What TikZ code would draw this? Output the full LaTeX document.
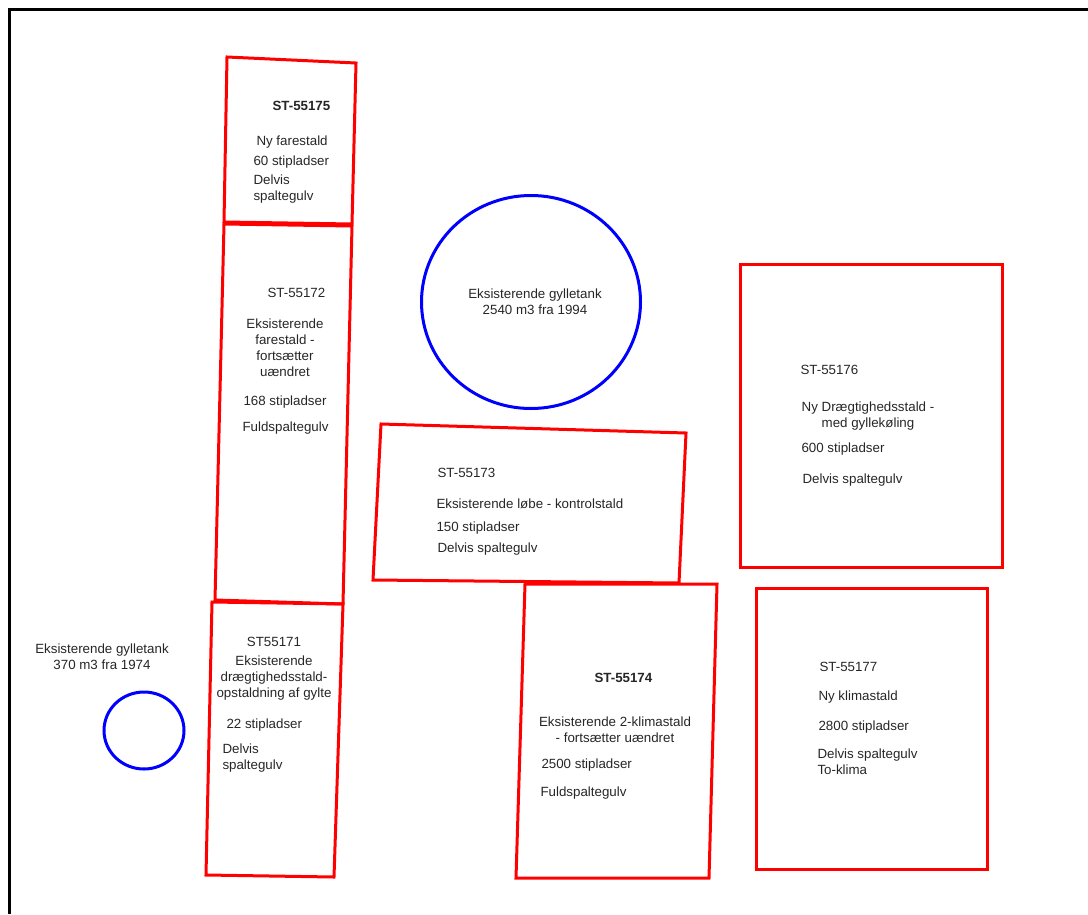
\documentclass[tikz,border=0pt]{standalone}
\usepackage{fontspec}
\setmainfont{Liberation Sans}
\tikzset{every picture/.style={line width=0.75pt}}
\tikzset{
  stald/.style={draw=red,line width=2.25pt},
  tank/.style={draw=blue,line width=2.25pt},
  txt/.style={inner sep=0.75pt,font=\fontsize{10}{12}\selectfont,text=black!85}
}

\begin{document}
\begin{tikzpicture}[x=0.75pt,y=0.75pt,yscale=-1,xscale=1]
	\useasboundingbox (0,0) rectangle (1088,914);

	%Frame
	\draw [line width=2.25pt] (9,914) -- (9,9) -- (1088,9) ;

	%Shape: ST-55175
	\draw [stald] (227,57) -- (356,63) -- (352,224) -- (224,222) -- cycle ;
	%Shape: ST-55172
	\draw [stald] (224,224) -- (352,226) -- (343,604) -- (215,600) -- cycle ;
	%Shape: ST-55171
	\draw [stald] (212,602) -- (343,604) -- (334,877) -- (206,875) -- cycle ;
	%Shape: ST-55173
	\draw [stald] (381,424) -- (686,433) -- (679,583) -- (373,580) -- cycle ;
	%Shape: ST-55174
	\draw [stald] (525,584) -- (717,584) -- (709,878) -- (516,878) -- cycle ;
	%Shape: ST-55176
	\draw [stald] (740,264) rectangle (1002,567) ;
	%Shape: ST-55177
	\draw [stald] (756,588) rectangle (987,869) ;

	%Shape: Circle (big tank)
	\draw [tank] (531,302) ellipse (109.5 and 106.5) ;
	%Shape: Circle (small tank)
	\draw [tank] (144,730.5) ellipse (40 and 38.5) ;

	% Text Node
	\node (t75) [txt,anchor=west] at (271,106) {\bfseries ST-55175};
	\node (t75a) [txt,anchor=west] at (255,142) {Ny farestald};
	\node (t75b) [txt,anchor=west] at (252,162) {60 stipladser};
	\node (t75c) [txt,anchor=north west,align=left] at (252,173) {Delvis\\spaltegulv};
	% Text Node
	\node (t72) [txt,anchor=west] at (266,293) {ST-55172};
	\node (t72a) [txt,anchor=north,align=center] at (285,317) {Eksisterende\\farestald -\\fortsætter\\uændret};
	\node (t72b) [txt,anchor=west] at (242,402) {168 stipladser};
	\node (t72c) [txt,anchor=west] at (241,428) {Fuldspaltegulv};
	% Text Node
	\node (t71) [txt] at (274,642) {ST55171};
	\node (t71a) [txt,anchor=north,align=center] at (274,654) {Eksisterende\\drægtighedsstald-\\opstaldning af gylte};
	\node (t71b) [txt,anchor=west] at (225,725) {22 stipladser};
	\node (t71c) [txt,anchor=north west,align=left] at (221,742) {Delvis\\spaltegulv};
	% Text Node
	\node (tsmall) [txt,anchor=north,align=center] at (102,642) {Eksisterende gylletank\\370 m3 fra 1974};
	\node (tbig) [txt,anchor=north,align=center] at (535,287) {Eksisterende gylletank\\2540 m3 fra 1994};
	% Text Node
	\node (t73) [txt,anchor=west] at (436,473) {ST-55173};
	\node (t73a) [txt,anchor=west] at (435,504) {Eksisterende løbe - kontrolstald};
	\node (t73b) [txt,anchor=west] at (435,528) {150 stipladser};
	\node (t73c) [txt,anchor=west] at (436,549) {Delvis spaltegulv};
	% Text Node
	\node (t74) [txt,anchor=west] at (593,678) {\bfseries ST-55174};
	\node (t74a) [txt,anchor=north,align=center] at (615,715) {Eksisterende 2-klimastald\\- fortsætter uændret};
	\node (t74b) [txt,anchor=west] at (540,765) {2500 stipladser};
	\node (t74c) [txt,anchor=west] at (539,793) {Fuldspaltegulv};
	% Text Node
	\node (t76) [txt,anchor=west] at (799,370) {ST-55176};
	\node (t76a) [txt,anchor=north,align=center] at (868,400) {Ny Drægtighedsstald -\\med gyllekøling};
	\node (t76b) [txt,anchor=west] at (800,449) {600 stipladser};
	\node (t76c) [txt,anchor=west] at (801,480) {Delvis spaltegulv};
	% Text Node
	\node (t77) [txt,anchor=west] at (818,667) {ST-55177};
	\node (t77a) [txt,anchor=west] at (817,697) {Ny klimastald};
	\node (t77b) [txt,anchor=west] at (817,727) {2800 stipladser};
	\node (t77c) [txt,anchor=north west,align=left] at (816,747) {Delvis spaltegulv\\To-klima};

\end{tikzpicture}
\end{document}
